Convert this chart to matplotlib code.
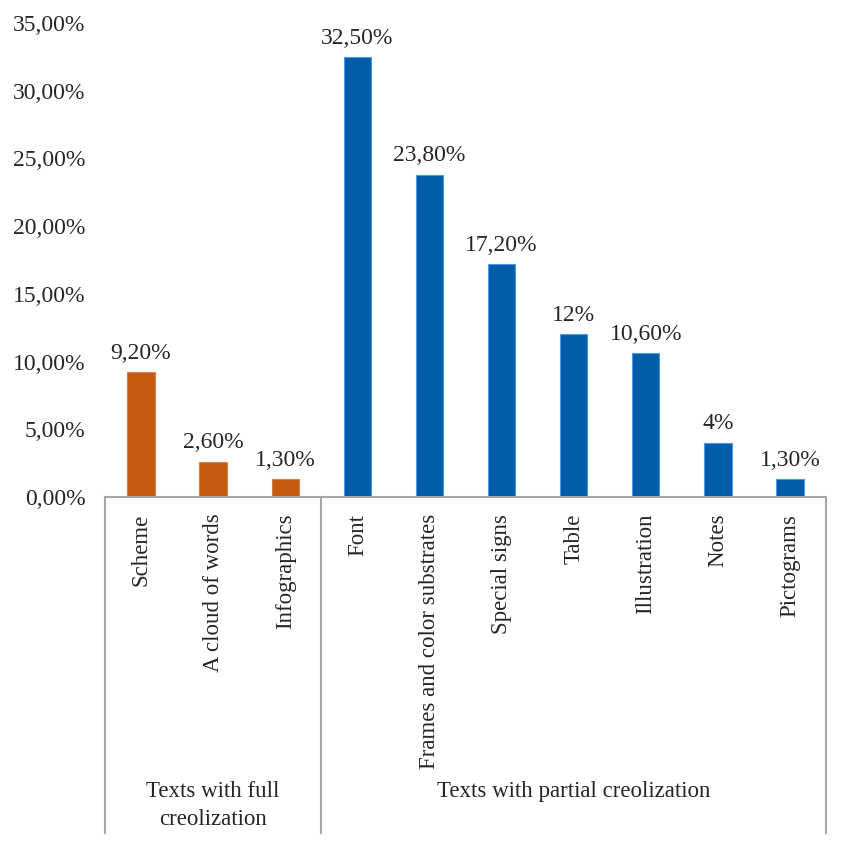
import numpy as np
import matplotlib.pyplot as plt
from matplotlib.ticker import FuncFormatter

plt.rcParams['font.family'] = ['Liberation Serif', 'DejaVu Serif']

categories = ['Scheme', 'A cloud of words', 'Infographics', 'Font',
              'Frames and color substrates', 'Special signs', 'Table',
              'Illustration', 'Notes', 'Pictograms']
values = [9.2, 2.6, 1.3, 32.5, 23.8, 17.2, 12.0, 10.6, 4.0, 1.3]
value_labels = ['9,20%', '2,60%', '1,30%', '32,50%', '23,80%', '17,20%',
                '12%', '10,60%', '4%', '1,30%']
groups = ['Texts with full\ncreolization', 'Texts with partial creolization']
group_sizes = [3, 7]

orange = '#C55A11'
blue = '#005DAA'
grey = '#A6A6A6'
txt = '#262626'

fig = plt.figure(figsize=(8.46, 8.56), dpi=100)
ax_h = 474
ax = fig.add_axes([105 / 846, 1 - 497 / 856, 721 / 846, ax_h / 856])

x = np.arange(len(categories))
colors = [orange] * group_sizes[0] + [blue] * group_sizes[1]
edges = ['#D9804A'] * group_sizes[0] + ['#4A9BE0'] * group_sizes[1]
ax.bar(x, values, width=0.38, color=colors, edgecolor=edges, linewidth=0.8)

for xi, v, lab in zip(x, values, value_labels):
    ax.annotate(lab, (xi, v), xytext=(0, 6), textcoords='offset points',
                ha='center', va='bottom', fontsize=17, color=txt)

ax.set_xlim(-0.5, len(categories) - 0.5)
ax.set_ylim(0, 35)
ax.set_yticks(np.arange(0, 36, 5))
ax.yaxis.set_major_formatter(FuncFormatter(lambda v, p: f'{v:.2f}'.replace('.', ',') + '%'))
ax.tick_params(axis='y', length=0, labelsize=17, pad=14, labelcolor=txt)

ax.set_xticks(x)
ax.set_xticklabels(categories, rotation=90, fontsize=16.5, color=txt)
ax.tick_params(axis='x', length=0, pad=12)

for s in ['top', 'right', 'left']:
    ax.spines[s].set_visible(False)
ax.spines['bottom'].set_color(grey)
ax.spines['bottom'].set_linewidth(1.5)

# group separators and group labels below the axis
trans = ax.get_xaxis_transform()
bottom = -336 / ax_h
bounds = [-0.5]
for n in group_sizes:
    bounds.append(bounds[-1] + n)
for b in bounds:
    ax.plot([b, b], [0, bottom], color=grey, lw=1.5, transform=trans, clip_on=False)
for g, a, b in zip(groups, bounds[:-1], bounds[1:]):
    ax.text((a + b) / 2, -284 / ax_h, g, transform=trans, ha='center', va='top',
            fontsize=16.5, color=txt, linespacing=1.45)

fig.savefig('out.png', dpi=100)
